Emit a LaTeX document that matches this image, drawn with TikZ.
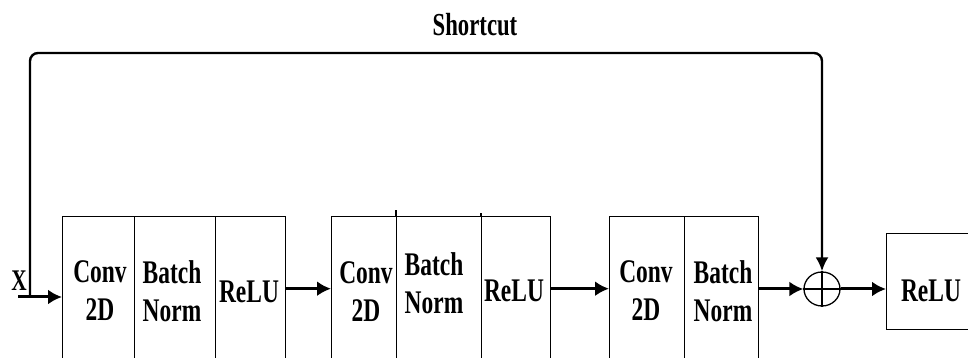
\documentclass[tikz,border=0pt]{standalone}
\usepackage{fontspec}
\setmainfont[FakeStretch=0.71]{Liberation Serif}
\usetikzlibrary{arrows.meta,shapes.geometric}
\begin{document}
\begin{tikzpicture}[x=1pt,y=1pt,
  cell/.style={draw, line width=1.4pt, minimum height=144pt, inner sep=0pt, anchor=north west},
  lbl/.style={font=\fontsize{33}{38}\selectfont\bfseries, align=center, inner sep=0pt},
  flow/.style={line width=3pt, -{Latex[length=14pt,width=15pt]}},
]
\path[use as bounding box] (0,0) rectangle (968,358);
\clip (0,0) rectangle (968,358);
% block 1
\node[cell, minimum width=72pt] (c1) at (62,142) {};
\node[cell, minimum width=81pt] (b1) at (134,142) {};
\node[cell, minimum width=70pt] (r1) at (215,142) {};
% block 2
\node[cell, minimum width=65pt] (c2) at (331,142) {};
\node[cell, minimum width=85pt] (b2) at (396,142) {};
\node[cell, minimum width=69pt] (r2) at (481,142) {};
\draw[line width=1.4pt] (b2.north west) -- ++(0,6);
\draw[line width=1.4pt] (r2.north west) -- ++(0,3);
% block 3
\node[cell, minimum width=75pt] (c3) at (609,142) {};
\node[cell, minimum width=74pt] (b3) at (684,142) {};
% labels
\node[lbl] (tc1) at (100,67) {Conv\\2D};
\node[lbl] (tb1) at (172,67) {Batch\\Norm};
\node[lbl] (tr1) at (249,66) {ReLU};
\node[lbl] (tc2) at (366,66) {Conv\\2D};
\node[lbl] (tb2) at (434,75) {Batch\\Norm};
\node[lbl] (tr2) at (514,67) {ReLU};
\node[lbl] (tc3) at (646,67) {Conv\\2D};
\node[lbl] (tb3) at (723,67) {Batch\\Norm};
% sum and final relu
\node[draw, ellipse, minimum width=36pt, minimum height=34pt, inner sep=0pt, line width=1.3pt] (plus) at (822,69) {};
\draw[line width=1.3pt] (plus.north) -- (plus.south) (plus.west) -- (plus.east);
\node[draw, line width=1.4pt, minimum width=92pt, minimum height=96pt, inner sep=0pt, anchor=north west] (fr) at (886,125) {};
\node[lbl] (trf) at (931,67) {ReLU};
% input
\coordinate (in) at (18,61);
\coordinate (j) at (30,61);
\node[font=\fontsize{30}{30}\selectfont\bfseries, inner sep=0pt] (xl) at (19,77) {X};
\draw[flow] (in) -- (in -| c1.west);
% arrows between blocks
\draw[flow] (r1.east) -- (c2.west);
\draw[flow] (r2.east) -- (c3.west);
\draw[flow] (b3.east |- plus.west) -- (plus.west);
\draw[flow] (plus.east) -- (plus.east -| fr.west);
% shortcut
\coordinate (tl) at (30,305);
\coordinate (tr) at (822,305);
\draw[line width=2.4pt, rounded corners=8pt, -{Latex[length=14pt,width=13pt]}] (j) -- (tl) -- (tr) -- (plus.north);
\node[font=\fontsize{32}{32}\selectfont\bfseries, inner sep=0pt] (sc) at (475,333) {Shortcut};
\end{tikzpicture}
\end{document}
